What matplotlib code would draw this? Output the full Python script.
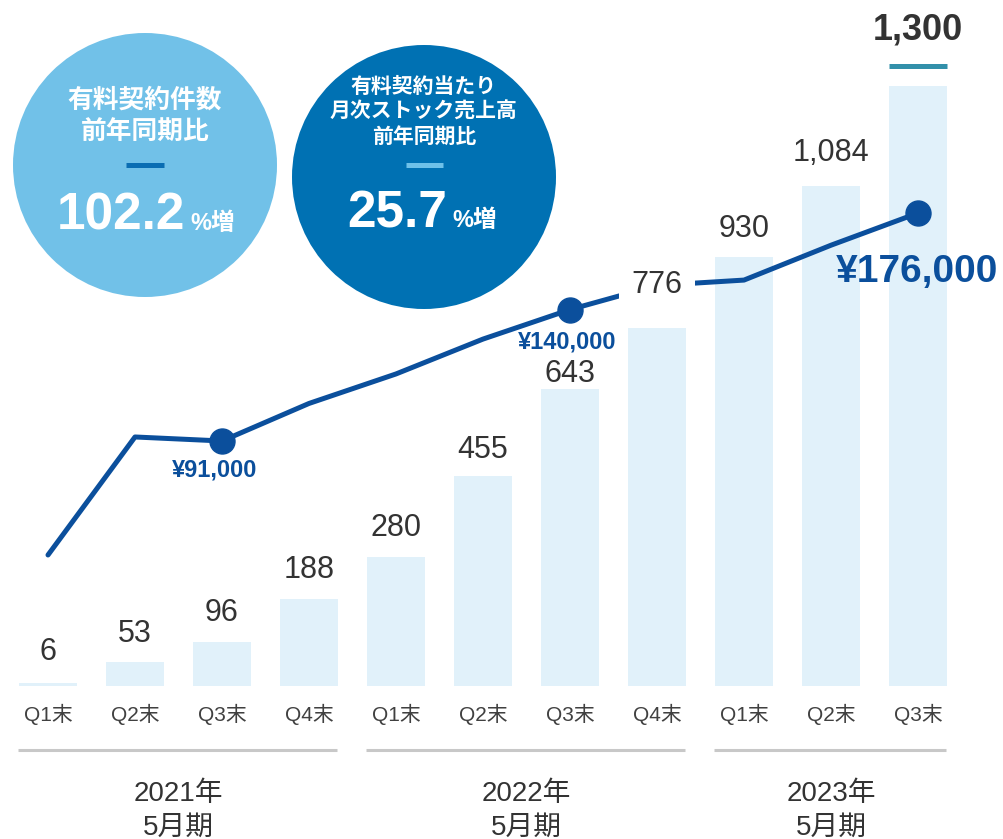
import matplotlib
matplotlib.use("Agg")
import matplotlib.pyplot as plt
from matplotlib.patches import Circle
from matplotlib.transforms import blended_transform_factory

plt.rcParams['font.family'] = ['Liberation Sans', 'Noto Sans CJK JP']

# データ
quarters = ['Q1末', 'Q2末', 'Q3末', 'Q4末', 'Q1末', 'Q2末', 'Q3末', 'Q4末', 'Q1末', 'Q2末', 'Q3末']
contracts = [6, 53, 96, 188, 280, 455, 643, 776, 930, 1084, 1300]
stock_sales = [48500, 92500, 91000, 105000, 116000, 129000, 140000, 149000, 151000, 164000, 176000]
marked = [2, 6, 10]
marked_labels = ['¥91,000', '¥140,000', '¥176,000']
groups = [(0, 3, '2021年\n5月期'), (4, 7, '2022年\n5月期'), (8, 10, '2023年\n5月期')]

BAR = '#E1F1FA'
LINE = '#0B4F9C'
TXT = '#333333'

W, H = 1004, 839
fig = plt.figure(figsize=(W / 100, H / 100), dpi=100)

# 棒グラフ(件数)
px_per_unit = 600 / 1300
ax = fig.add_axes([0, 153 / H, 1, 686 / H])
x = list(range(len(contracts)))
ax.bar(x, contracts, width=0.667, color=BAR, zorder=1)
ax.set_xlim(-48 / 87, (W - 48) / 87)
ax.set_ylim(0, 686 / px_per_unit)
ax.set_xticks(x, quarters)
ax.tick_params(axis='x', length=0, pad=13, labelsize=15, labelcolor='#404040')
ax.set_yticks([])
for s in ax.spines.values():
    s.set_visible(False)

# 折れ線(月次ストック売上高)
ax2 = ax.twinx()
ax2.set_ylim(-350, 255430)
ax2.set_yticks([])
for s in ax2.spines.values():
    s.set_visible(False)
ax2.plot(x, stock_sales, color=LINE, lw=3.6, solid_capstyle='round',
         marker='o', markersize=18, markevery=marked, zorder=3)

# 棒の数値ラベル
offsets_px = [31, 28, 29, 29, 29, 26, 15, 43, 28, 33, 56]
for i, v in enumerate(contracts):
    last = i == len(contracts) - 1
    kw = dict(fontsize=26, fontweight='bold') if last else dict(fontsize=22)
    bbox = dict(facecolor='white', edgecolor='none', pad=9) if v == 776 else None
    ax2.annotate(f'{v:,}', xy=(i, v), xycoords=ax.transData,
                 xytext=(0, offsets_px[i] * 0.72), textcoords='offset points',
                 ha='center', va='center', color=TXT, bbox=bbox, zorder=5, **kw)

# 1,300 の下のライン
top = contracts[-1] + 20 / px_per_unit
ax.plot([x[-1] - 0.33, x[-1] + 0.33], [top, top], color='#3290AA', lw=3.6,
        solid_capstyle='butt', clip_on=False, zorder=4)

# 円マーカーのラベル
lab_off = [(-7, -29, 17), (-3, -32, 17), (-1, -59, 28)]
for idx, lab, (dx, dy, fs) in zip(marked, marked_labels, lab_off):
    ax2.annotate(lab, xy=(idx, stock_sales[idx]), xytext=(dx * 0.72, dy * 0.72),
                 textcoords='offset points', ha='center', va='center',
                 fontsize=fs, fontweight='bold', color=LINE, zorder=5)

# 年度グループ
tr = blended_transform_factory(ax.transData, ax.transAxes)
for a, b, lab in groups:
    ax.plot([a - 0.35, b + 0.32], [-0.0933, -0.0933], transform=tr, clip_on=False,
            color='#C8C8C8', lw=2.2, solid_capstyle='butt')
    ax.text((a + b) / 2, -0.182, lab, transform=tr, ha='center', va='center',
            fontsize=20, color=TXT, linespacing=1.4)

# 円の吹き出し(ピクセル座標)
ov = fig.add_axes([0, 0, 1, 1], zorder=10)
ov.set_xlim(0, W)
ov.set_ylim(H, 0)
ov.axis('off')
ov.patch.set_visible(False)

ov.add_patch(Circle((145, 165), 132, color='#71C1E8', lw=0))
ov.text(145, 100, '有料契約件数', ha='center', va='center', fontsize=18.5,
        fontweight='bold', color='white')
ov.text(145, 133, '前年同期比', ha='center', va='center', fontsize=18.5,
        fontweight='bold', color='white')
ov.plot([126, 164], [165, 165], color='#0A6DB2', lw=3.6, solid_capstyle='butt')
ov.text(185, 230, '102.2', ha='right', va='baseline', fontsize=37,
        fontweight='bold', color='white')
ov.text(190, 230, '%増', ha='left', va='baseline', fontsize=17,
        fontweight='bold', color='white')

ov.add_patch(Circle((424, 177), 132, color='#0071B3', lw=0))
ov.text(424, 87, '有料契約当たり', ha='center', va='center', fontsize=15,
        fontweight='bold', color='white')
ov.text(424, 112, '月次ストック売上高', ha='center', va='center', fontsize=15,
        fontweight='bold', color='white')
ov.text(424, 137, '前年同期比', ha='center', va='center', fontsize=15,
        fontweight='bold', color='white')
ov.plot([406, 443], [165, 165], color='#6EC1E9', lw=3.6, solid_capstyle='butt')
ov.text(447, 227, '25.7', ha='right', va='baseline', fontsize=37,
        fontweight='bold', color='white')
ov.text(452, 227, '%増', ha='left', va='baseline', fontsize=17,
        fontweight='bold', color='white')

ov.text(50, -3, '(件)', ha='center', va='bottom', fontsize=15, color=TXT, clip_on=False)

fig.savefig('out.png', dpi=100)
